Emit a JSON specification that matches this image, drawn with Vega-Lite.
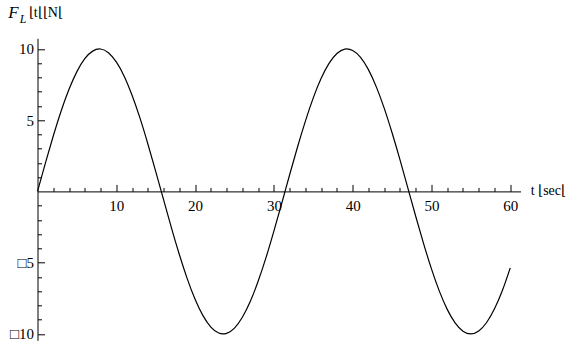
{
  "$schema": "https://vega.github.io/schema/vega-lite/v6.json",
  "width": 483,
  "height": 302,
  "autosize": {"type": "none"},
  "padding": {"left": 37.5, "top": 38.3, "right": 53.5, "bottom": 4.7},
  "background": "white",
  "config": {"view": {"stroke": null}, "font": "'Liberation Serif', 'Times New Roman', serif"},
  "resolve": {"axis": {"x": "independent", "y": "independent"}},
  "layer": [
    {
      "data": {"name": "curve", "values": [
        {"t": 0, "F": 0}, {"t": 1, "F": 1.99}, {"t": 2, "F": 3.89}, {"t": 3, "F": 5.65}, {"t": 4, "F": 7.17},
        {"t": 5, "F": 8.41}, {"t": 6, "F": 9.32}, {"t": 7, "F": 9.85}, {"t": 8, "F": 10.0}, {"t": 9, "F": 9.74},
        {"t": 10, "F": 9.09}, {"t": 11, "F": 8.09}, {"t": 12, "F": 6.75}, {"t": 13, "F": 5.16}, {"t": 14, "F": 3.35},
        {"t": 15, "F": 1.41}, {"t": 16, "F": -0.58}, {"t": 17, "F": -2.56}, {"t": 18, "F": -4.43}, {"t": 19, "F": -6.12},
        {"t": 20, "F": -7.57}, {"t": 21, "F": -8.72}, {"t": 22, "F": -9.52}, {"t": 23, "F": -9.94}, {"t": 24, "F": -9.96},
        {"t": 25, "F": -9.59}, {"t": 26, "F": -8.83}, {"t": 27, "F": -7.73}, {"t": 28, "F": -6.31}, {"t": 29, "F": -4.65},
        {"t": 30, "F": -2.79}, {"t": 31, "F": -0.83}, {"t": 32, "F": 1.17}, {"t": 33, "F": 3.12}, {"t": 34, "F": 4.94},
        {"t": 35, "F": 6.57}, {"t": 36, "F": 7.94}, {"t": 37, "F": 8.99}, {"t": 38, "F": 9.68}, {"t": 39, "F": 9.99},
        {"t": 40, "F": 9.89}, {"t": 41, "F": 9.41}, {"t": 42, "F": 8.55}, {"t": 43, "F": 7.34}, {"t": 44, "F": 5.85},
        {"t": 45, "F": 4.12}, {"t": 46, "F": 2.23}, {"t": 47, "F": 0.25}, {"t": 48, "F": -1.74}, {"t": 49, "F": -3.66},
        {"t": 50, "F": -5.44}, {"t": 51, "F": -7.0}, {"t": 52, "F": -8.28}, {"t": 53, "F": -9.23}, {"t": 54, "F": -9.81},
        {"t": 55, "F": -10.0}, {"t": 56, "F": -9.79}, {"t": 57, "F": -9.2}, {"t": 58, "F": -8.24}, {"t": 59, "F": -6.96},
        {"t": 60, "F": -5.37}
      ]},
      "mark": {"type": "line", "color": "black", "strokeWidth": 1.2, "interpolate": "natural", "clip": false},
      "encoding": {
        "x": {
          "field": "t", "type": "quantitative",
          "scale": {"domain": [0, 61.3], "nice": false, "zero": false},
          "axis": {
            "orient": "bottom",
            "offset": -148.9,
            "values": [10, 20, 30, 40, 50, 60],
            "tickSize": -7,
            "tickColor": "black", "tickWidth": 1,
            "domainColor": "black", "domainWidth": 1,
            "labelFont": "'Liberation Serif', 'Times New Roman', serif", "labelFontSize": 15, "labelColor": "black",
            "labelPadding": 14, "labelOverlap": false, "labelFlush": false,
            "grid": false,
            "title": null
          }
        },
        "y": {
          "field": "F", "type": "quantitative",
          "scale": {"domain": [-10.45, 10.75], "nice": false, "zero": false},
          "axis": {
            "orient": "left",
            "values": [-10, -5, 5, 10],
            "labelExpr": "datum.value < 0 ? '□' + abs(datum.value) : datum.label",
            "tickSize": -7,
            "tickColor": "black", "tickWidth": 1,
            "domainColor": "black", "domainWidth": 1,
            "labelFont": "'Liberation Serif', 'Times New Roman', serif", "labelFontSize": 15, "labelColor": "black",
            "labelPadding": 11, "labelOverlap": false, "labelFlush": false,
            "grid": false,
            "title": null
          }
        }
      }
    },
    {
      "data": {"name": "curve"},
      "mark": {"type": "line", "strokeOpacity": 0, "interpolate": "natural", "clip": false},
      "encoding": {
        "x": {
          "field": "t", "type": "quantitative",
          "scale": {"domain": [0, 61.3], "nice": false, "zero": false},
          "axis": {
            "orient": "bottom",
            "offset": -148.9,
            "values": [2, 4, 6, 8, 12, 14, 16, 18, 22, 24, 26, 28, 32, 34, 36, 38, 42, 44, 46, 48, 52, 54, 56, 58],
            "tickSize": -4,
            "tickColor": "black", "tickWidth": 1,
            "domain": false, "labels": false, "grid": false,
            "title": null
          }
        },
        "y": {
          "field": "F", "type": "quantitative",
          "scale": {"domain": [-10.45, 10.75], "nice": false, "zero": false},
          "axis": {
            "orient": "left",
            "values": [-9, -8, -7, -6, -4, -3, -2, -1, 1, 2, 3, 4, 6, 7, 8, 9],
            "tickSize": -4,
            "tickColor": "black", "tickWidth": 1,
            "domain": false, "labels": false, "grid": false,
            "title": null
          }
        }
      }
    },
    {
      "data": {"values": [{"label": "F"}]},
      "mark": {"type": "text", "font": "'Liberation Serif', 'Times New Roman', serif", "fontSize": 17, "fontStyle": "italic", "color": "black", "align": "center", "baseline": "middle", "clip": false},
      "encoding": {
        "x": {"datum": -3.05, "type": "quantitative", "scale": {"domain": [0, 61.3], "nice": false, "zero": false}, "axis": null},
        "y": {"datum": 12.55, "type": "quantitative", "scale": {"domain": [-10.45, 10.75], "nice": false, "zero": false}, "axis": null},
        "text": {"field": "label"}
      }
    },
    {
      "data": {"values": [{"label": "L"}]},
      "mark": {"type": "text", "font": "'Liberation Serif', 'Times New Roman', serif", "fontSize": 12, "fontStyle": "italic", "color": "black", "align": "center", "baseline": "middle", "clip": false},
      "encoding": {
        "x": {"datum": -1.84, "type": "quantitative", "scale": {"domain": [0, 61.3], "nice": false, "zero": false}, "axis": null},
        "y": {"datum": 12.1, "type": "quantitative", "scale": {"domain": [-10.45, 10.75], "nice": false, "zero": false}, "axis": null},
        "text": {"field": "label"}
      }
    },
    {
      "data": {"values": [{"label": "⌊t⌊⌊N⌊"}]},
      "mark": {"type": "text", "font": "'Liberation Serif', 'Times New Roman', serif", "fontSize": 14, "color": "black", "align": "left", "baseline": "middle", "clip": false},
      "encoding": {
        "x": {"datum": -1.1, "type": "quantitative", "scale": {"domain": [0, 61.3], "nice": false, "zero": false}, "axis": null},
        "y": {"datum": 12.55, "type": "quantitative", "scale": {"domain": [-10.45, 10.75], "nice": false, "zero": false}, "axis": null},
        "text": {"field": "label"}
      }
    },
    {
      "data": {"values": [{"label": "t ⌊sec⌊"}]},
      "mark": {"type": "text", "font": "'Liberation Serif', 'Times New Roman', serif", "fontSize": 14, "color": "black", "align": "left", "baseline": "middle", "clip": false},
      "encoding": {
        "x": {"datum": 62.6, "type": "quantitative", "scale": {"domain": [0, 61.3], "nice": false, "zero": false}, "axis": null},
        "y": {"datum": 0, "type": "quantitative", "scale": {"domain": [-10.45, 10.75], "nice": false, "zero": false}, "axis": null},
        "text": {"field": "label"}
      }
    }
  ]
}
